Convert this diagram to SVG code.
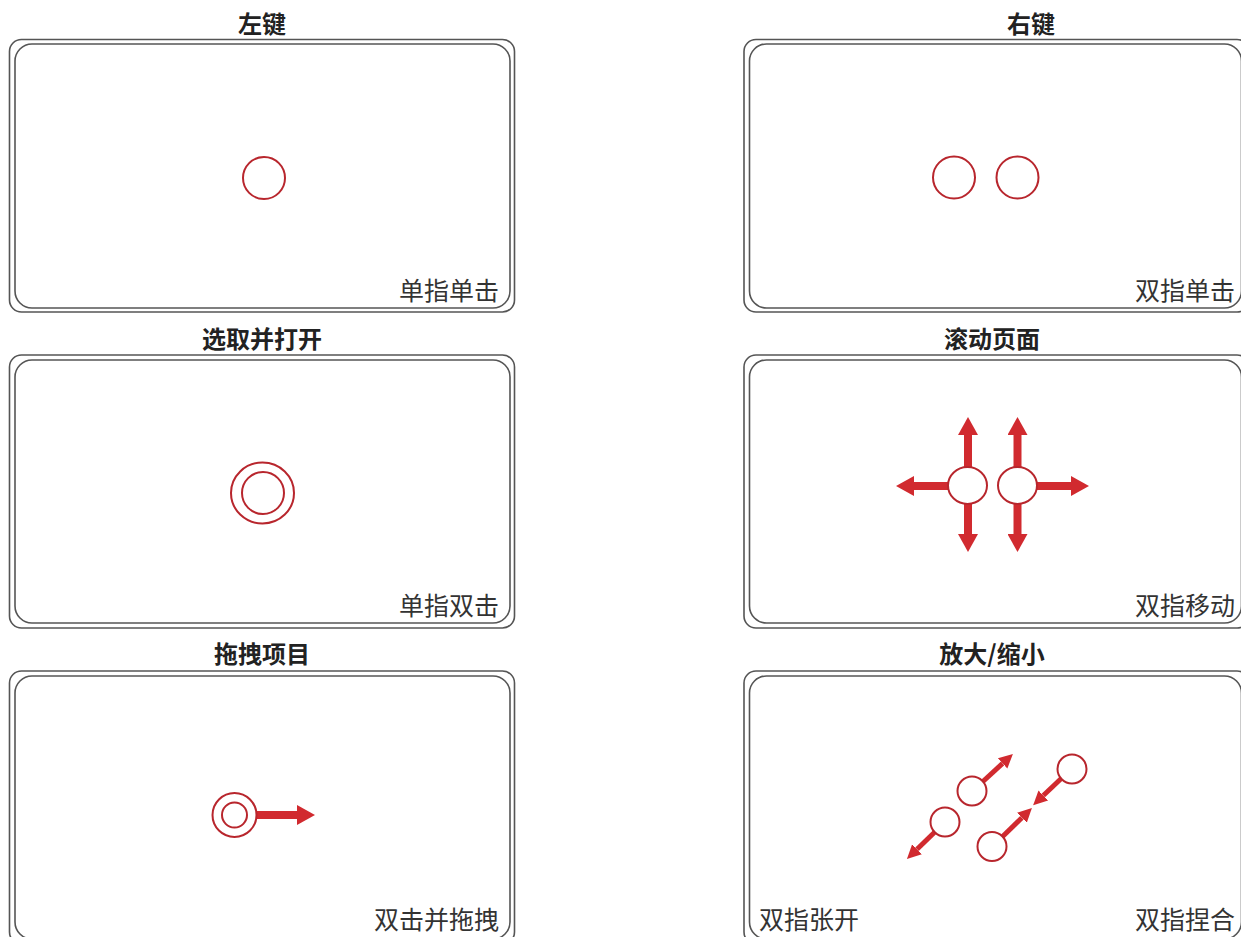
<svg xmlns="http://www.w3.org/2000/svg" width="1241" height="937" viewBox="0 0 1241 937">
<style>
.outer{fill:none;stroke:#555;stroke-width:1.6}
.inner{fill:none;stroke:#555;stroke-width:1.6}
.title{font-family:"Noto Sans CJK SC",sans-serif;font-size:24px;font-weight:700;fill:#222;text-anchor:middle}
.lbl{font-family:"Noto Sans CJK SC",sans-serif;font-size:25px;fill:#333}
.end{text-anchor:end}
.ring{fill:#fff;stroke:#b8262d;stroke-width:2}
.shaft{stroke:#d12a2f;stroke-width:8;fill:none}
.shaft-s{stroke:#d12a2f;stroke-width:5;fill:none}
</style>
<defs>
<marker id="ah" markerUnits="userSpaceOnUse" markerWidth="20" markerHeight="20" refX="0" refY="10" orient="auto"><path d="M0,0 L18,10 L0,20 Z" fill="#d12a2f"/></marker>
<marker id="ahs" markerUnits="userSpaceOnUse" markerWidth="16" markerHeight="16" refX="0" refY="8" orient="auto"><path d="M0,1 L14,8 L0,15 Z" fill="#d12a2f"/></marker>
</defs>
<rect width="1241" height="937" fill="#fff"/>

<g id="panel-left-click">
<text class="title" x="262" y="33">左键</text>
<rect class="outer" x="9.5" y="39.5" width="505" height="272.5" rx="12"/>
<rect class="inner" x="15" y="44" width="495" height="264" rx="17"/>
<text class="lbl end" x="499" y="300">单指单击</text>
<circle class="ring" cx="264" cy="178" r="21"/>
</g>

<g id="panel-right-click">
<text class="title" x="1031" y="33">右键</text>
<rect class="outer" x="744" y="39.5" width="505" height="272.5" rx="12"/>
<rect class="inner" x="749.5" y="44" width="492" height="264" rx="17"/>
<text class="lbl end" x="1235" y="300">双指单击</text>
<circle class="ring" cx="954" cy="177.5" r="21"/>
<circle class="ring" cx="1017.5" cy="177.5" r="21"/>
</g>

<g id="panel-open">
<text class="title" x="262" y="348">选取并打开</text>
<rect class="outer" x="9.5" y="355" width="505" height="273" rx="12"/>
<rect class="inner" x="15" y="360" width="495" height="263" rx="17"/>
<text class="lbl end" x="499" y="615">单指双击</text>
<ellipse class="ring" cx="262.5" cy="493" rx="31.5" ry="30.5"/>
<circle class="ring" cx="263" cy="493" r="21"/>
</g>

<g id="panel-scroll">
<text class="title" x="992" y="348">滚动页面</text>
<rect class="outer" x="744" y="355" width="505" height="273" rx="12"/>
<rect class="inner" x="749.5" y="360" width="492" height="263" rx="17"/>
<text class="lbl end" x="1235" y="615">双指移动</text>
</g>

<g id="panel-drag">
<text class="title" x="262" y="663">拖拽项目</text>
<rect class="outer" x="9.5" y="671" width="505" height="273" rx="12"/>
<rect class="inner" x="15" y="676" width="495" height="263" rx="17"/>
<text class="lbl end" x="499" y="929">双击并拖拽</text>
</g>

<g id="panel-zoom">
<text class="title" x="992" y="663">放大/缩小</text>
<rect class="outer" x="744" y="671" width="505" height="273" rx="12"/>
<rect class="inner" x="749.5" y="676" width="492" height="263" rx="17"/>
<text class="lbl" x="759" y="929">双指张开</text>
<text class="lbl end" x="1235" y="929">双指捏合</text>
</g>

<g id="connectors">
<line class="shaft" x1="968" y1="475" x2="968" y2="435" marker-end="url(#ah)"/>
<line class="shaft" x1="968" y1="495" x2="968" y2="534" marker-end="url(#ah)"/>
<line class="shaft" x1="958" y1="486" x2="914" y2="486" marker-end="url(#ah)"/>
<line class="shaft" x1="1017.5" y1="475" x2="1017.5" y2="435" marker-end="url(#ah)"/>
<line class="shaft" x1="1017.5" y1="495" x2="1017.5" y2="534" marker-end="url(#ah)"/>
<line class="shaft" x1="1027" y1="486" x2="1071" y2="486" marker-end="url(#ah)"/>
<line class="shaft" x1="250" y1="815" x2="297" y2="815" marker-end="url(#ah)"/>
<line class="shaft-s" x1="978" y1="786" x2="1002.6" y2="763.4" marker-end="url(#ahs)"/>
<line class="shaft-s" x1="940" y1="827" x2="917" y2="849.2" marker-end="url(#ahs)"/>
<line class="shaft-s" x1="1066" y1="774" x2="1043.3" y2="795.5" marker-end="url(#ahs)"/>
<line class="shaft-s" x1="998" y1="841" x2="1021.9" y2="817.7" marker-end="url(#ahs)"/>
</g>

<g id="touch-points">
<ellipse class="ring" cx="967.5" cy="485.5" rx="19.5" ry="18.5"/>
<ellipse class="ring" cx="1017.5" cy="485.5" rx="19.5" ry="18.5"/>
<circle class="ring" cx="234.5" cy="815" r="22"/>
<circle class="ring" cx="234.5" cy="815" r="12.5"/>
<circle class="ring" cx="972" cy="791" r="14.5"/>
<circle class="ring" cx="945" cy="822" r="14.5"/>
<circle class="ring" cx="1072" cy="769" r="14.5"/>
<circle class="ring" cx="992" cy="846.5" r="14.5"/>
</g>
</svg>
